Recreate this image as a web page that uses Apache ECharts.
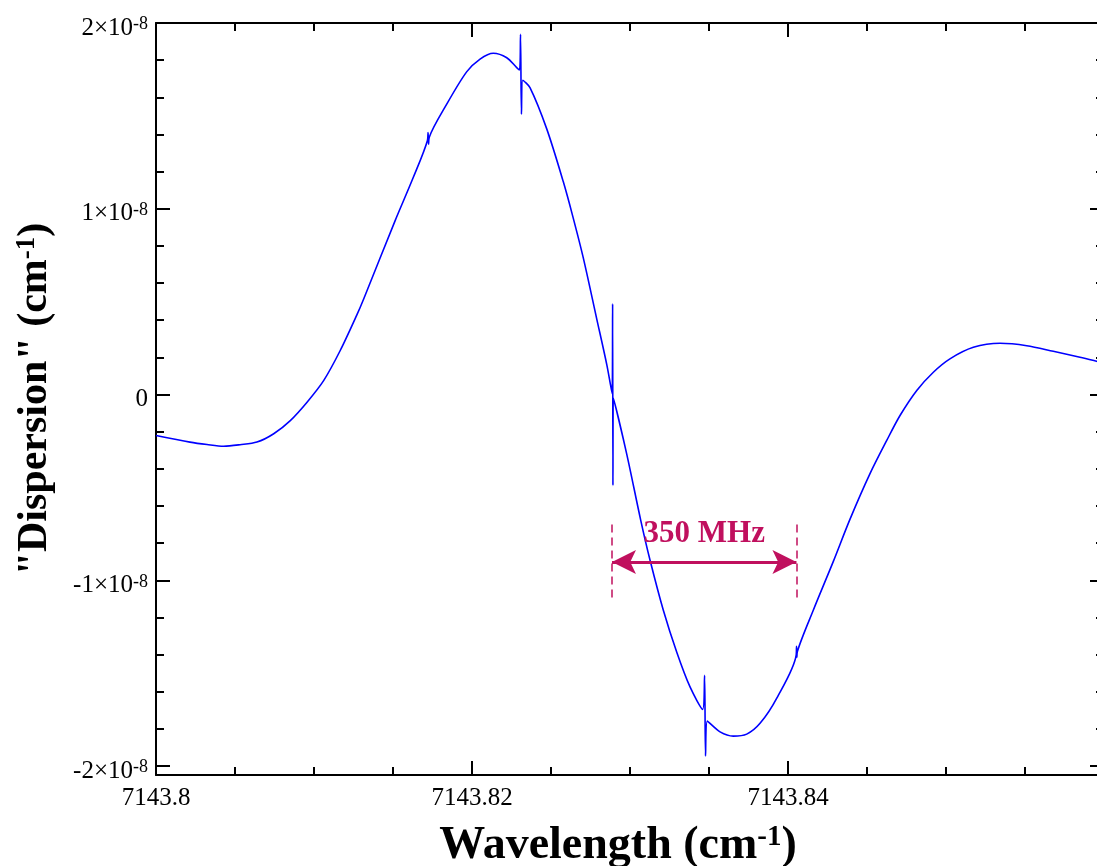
<!DOCTYPE html>
<html>
<head>
<meta charset="utf-8">
<title>Dispersion</title>
<script src="https://cdn.jsdelivr.net/npm/echarts@6/dist/echarts.min.js"></script>
<style>
  html, body { margin: 0; padding: 0; background: #ffffff; }
  #chart { width: 1097px; height: 866px; }
</style>
</head>
<body>
<div id="chart"></div>
<script>
// Wavenumber of each sample (cm^-1)
const wavenumber = [
  7143.80000, 7143.80215, 7143.80323, 7143.80428, 7143.80532, 7143.80639,
  7143.80745, 7143.80850, 7143.80956, 7143.81061, 7143.81166, 7143.81272,
  7143.81315, 7143.81513, 7143.81628, 7143.81718, 7143.81722, 7143.81725,
  7143.81729, 7143.81840, 7143.81966, 7143.82051, 7143.82135, 7143.82220,
  7143.82283, 7143.82301, 7143.82307, 7143.82313, 7143.82321, 7143.82367,
  7143.82473, 7143.82578, 7143.82637, 7143.82704, 7143.82789, 7143.82853,
  7143.82887, 7143.82890, 7143.82892, 7143.82894, 7143.82979, 7143.83068,
  7143.83127, 7143.83211, 7143.83296, 7143.83380, 7143.83460, 7143.83472,
  7143.83478, 7143.83489, 7143.83570, 7143.83654, 7143.83739, 7143.83823,
  7143.83929, 7143.84052, 7143.84054, 7143.84056, 7143.84059, 7143.84160,
  7143.84287, 7143.84392, 7143.84519, 7143.84625, 7143.84709, 7143.84815,
  7143.84920, 7143.85025, 7143.85173, 7143.85342, 7143.85511, 7143.85679,
  7143.85848, 7143.85954, 7143.86000
];

// Dispersion signal, in units of 1e-8 cm^-1
const dispersion = [
  -0.220, -0.256, -0.269, -0.278, -0.270, -0.256,
  -0.211, -0.140, -0.041,  0.075,  0.237,  0.430,
   0.516,  0.935,  1.168,  1.368,  1.410,  1.348,
   1.384,  1.563,  1.737,  1.806,  1.837,  1.813,
   1.760,  1.747,  1.939,  1.509,  1.692,  1.652,
   1.430,  1.145,  0.962,  0.737,  0.409,  0.161,
   0.005,  0.488, -0.489, -0.016, -0.319, -0.677,
  -0.892, -1.161, -1.387, -1.574, -1.695, -1.511,
  -1.946, -1.758, -1.816, -1.839, -1.828, -1.770,
  -1.634, -1.401, -1.355, -1.414, -1.384, -1.161,
  -0.898, -0.672, -0.426, -0.247, -0.113,  0.022,
   0.120,  0.192,  0.254,  0.276,  0.263,  0.233,
   0.201,  0.179,  0.169
];

// Axis ticks (y in units of 1e-8)
const yMajorTicks = [-2, -1, 0, 1, 2];
const yMinorTicks = [-1.8, -1.6, -1.4, -1.2, -0.8, -0.6, -0.4, -0.2,
                      0.2, 0.4, 0.6, 0.8, 1.2, 1.4, 1.6, 1.8];

// Frequency span marker: 350 MHz expressed in wavenumber
const MHZ_PER_WAVENUMBER = 29979.2458;
const spanMHz = 350;
const spanStart = 7143.82886;
const spanEnd = spanStart + spanMHz / MHZ_PER_WAVENUMBER;
const arrowLevel = -0.901;
const guideTop = -0.699;
const guideBottom = -1.097;

const X_MIN = 7143.80, X_MAX = 7143.86;
const Y_MIN = -2.048, Y_MAX = 2;

const SERIF = "'Liberation Serif', 'Times New Roman', Times, serif";
const BLACK = '#000000';
const MARK = '#c0105e';

// Barbed arrow head, tip pointing up
const ARROW_HEAD = 'path://M12.5,0 L25,23 L12.5,17.5 L0,23 Z';
const ARROW_SIZE = 24;

const gridRect = { left: 156, top: 23, width: 948, height: 752, outerBoundsMode: 'none', containLabel: false };

const frameLine = { show: true, onZero: false, lineStyle: { color: BLACK, width: 2 } };

function xAxisFor(position, showLabels) {
  return {
    type: 'value', gridIndex: 0, position: position,
    min: X_MIN, max: X_MAX, interval: 0.02,
    axisLine: frameLine,
    axisTick: { show: true, inside: true, length: 14, lineStyle: { color: BLACK, width: 2 } },
    minorTick: { show: true, splitNumber: 4, length: 8, lineStyle: { color: BLACK, width: 2 } },
    splitLine: { show: false }, minorSplitLine: { show: false },
    axisLabel: {
      show: showLabels, showMaxLabel: false, margin: 11,
      formatter: v => String(Number(v.toFixed(4))),
      fontFamily: SERIF, fontSize: 25, color: BLACK
    }
  };
}

const yLabelRich = {
  m: { fontFamily: SERIF, fontSize: 25, lineHeight: 25, color: BLACK, verticalAlign: 'bottom' },
  s: { fontFamily: SERIF, fontSize: 18, lineHeight: 18, color: BLACK, verticalAlign: 'top', padding: [0, 0, 10, 0] }
};

function yMajorAxis(position, showLabels) {
  return {
    type: 'value', gridIndex: 0, position: position,
    min: Y_MIN, max: Y_MAX,
    axisLine: frameLine,
    axisTick: { show: true, inside: true, length: 14, customValues: yMajorTicks,
                lineStyle: { color: BLACK, width: 2 } },
    splitLine: { show: false },
    axisLabel: {
      show: showLabels, customValues: yMajorTicks, margin: 8,
      padding: [10, 0, 0, 0],
      formatter: v => v === 0 ? '{m|0}' : '{m|' + v + '×10}{s|-8}',
      rich: yLabelRich
    }
  };
}

function yMinorAxis(position) {
  return {
    type: 'value', gridIndex: 1, position: position,
    min: Y_MIN, max: Y_MAX,
    axisLine: { show: false },
    axisTick: { show: true, inside: true, length: 8, customValues: yMinorTicks,
                lineStyle: { color: BLACK, width: 2 } },
    splitLine: { show: false },
    axisLabel: { show: false }
  };
}

function titleRich(size, supSize) {
  return {
    t: { fontFamily: SERIF, fontSize: size, fontWeight: 'bold', lineHeight: size, color: BLACK, verticalAlign: 'bottom' },
    s: { fontFamily: SERIF, fontSize: supSize, fontWeight: 'bold', lineHeight: supSize, color: BLACK, verticalAlign: 'top' }
  };
}

const bottomAxis = xAxisFor('bottom', true);
bottomAxis.name = '{t|Wavelength (cm}{s|-1}{t|)}';
bottomAxis.nameLocation = 'middle';
bottomAxis.nameGap = 48;
bottomAxis.nameTextStyle = { rich: titleRich(46, 29), padding: [0, 24, 0, 0] };

const leftAxis = yMajorAxis('left', true);
leftAxis.name = '{t|"Dispersion" (cm}{s|-1}{t|)}';
leftAxis.nameLocation = 'middle';
leftAxis.nameGap = 100;
leftAxis.nameTextStyle = { rich: titleRich(42, 27) };

const curve = wavenumber.map((x, i) => [x, dispersion[i]]);

const option = {
  animation: false,
  backgroundColor: '#ffffff',
  textStyle: { fontFamily: SERIF },
  grid: [
    Object.assign({}, gridRect),
    Object.assign({}, gridRect)
  ],
  xAxis: [
    bottomAxis,
    xAxisFor('top', false),
    { type: 'value', gridIndex: 1, min: X_MIN, max: X_MAX, show: false }
  ],
  yAxis: [
    leftAxis,
    yMajorAxis('right', false),
    yMinorAxis('left'),
    yMinorAxis('right')
  ],
  series: [
    {
      name: 'dispersion',
      type: 'line',
      xAxisIndex: 0, yAxisIndex: 0,
      data: curve,
      showSymbol: false,
      symbol: 'none',
      smooth: 0.3,
      lineStyle: { color: '#0000ff', width: 1.6 },
      z: 3
    },
    {
      name: 'span guides',
      type: 'line',
      xAxisIndex: 0, yAxisIndex: 0,
      data: [],
      markLine: {
        silent: true,
        symbol: ['none', 'none'],
        label: { show: false },
        lineStyle: { color: MARK, width: 1.5, type: [8, 5] },
        data: [
          [{ coord: [spanStart, guideTop] }, { coord: [spanStart, guideBottom] }],
          [{ coord: [spanEnd, guideTop] }, { coord: [spanEnd, guideBottom] }]
        ]
      },
      z: 4
    },
    {
      name: 'span',
      type: 'line',
      xAxisIndex: 0, yAxisIndex: 0,
      data: [],
      markLine: {
        silent: true,
        symbol: [ARROW_HEAD, ARROW_HEAD],
        symbolSize: ARROW_SIZE,
        symbolOffset: [[0, ARROW_SIZE / 2], [0, ARROW_SIZE / 2]],
        label: {
          show: true, position: 'middle', distance: 12,
          formatter: spanMHz + ' MHz',
          fontFamily: SERIF, fontSize: 31, fontWeight: 'bold', color: MARK
        },
        lineStyle: { color: MARK, width: 3, type: 'solid' },
        itemStyle: { color: MARK },
        data: [
          [{ coord: [spanStart, arrowLevel] }, { coord: [spanEnd, arrowLevel] }]
        ]
      },
      z: 5
    }
  ]
};

const chart = echarts.init(document.getElementById('chart'), null, { renderer: 'canvas' });
chart.setOption(option);
</script>
</body>
</html>
